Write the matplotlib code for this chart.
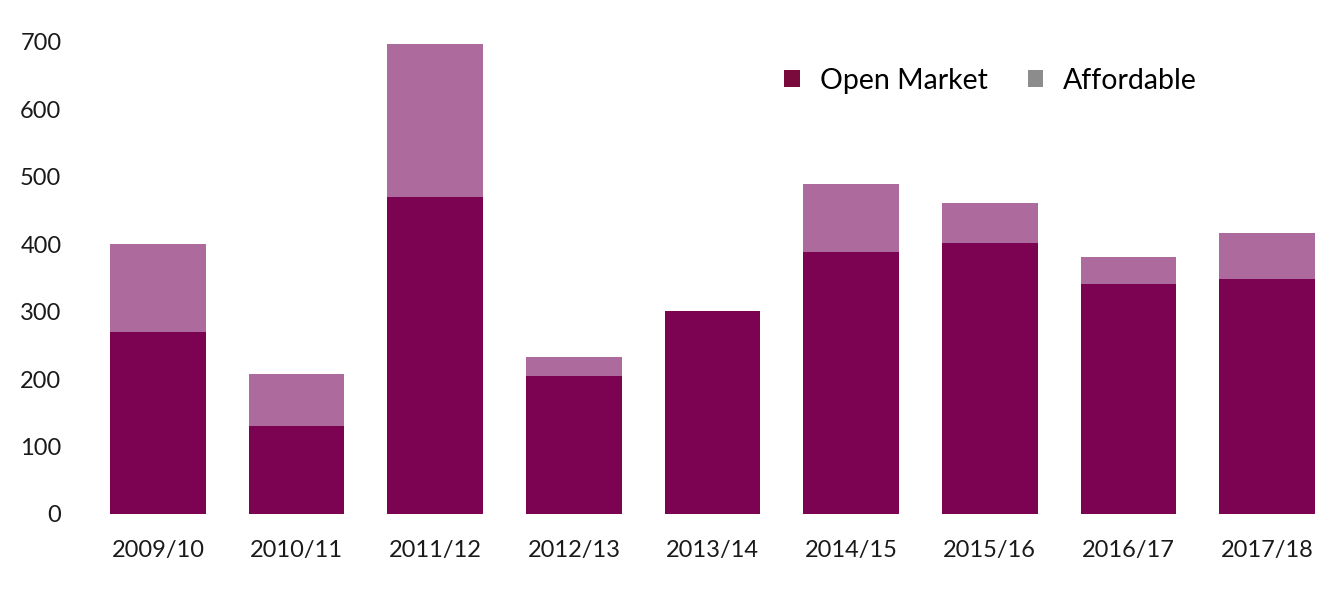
import matplotlib.pyplot as plt
from matplotlib.patches import Patch

years = ["2009/10", "2010/11", "2011/12", "2012/13", "2013/14",
         "2014/15", "2015/16", "2016/17", "2017/18"]
open_market = [270, 130, 470, 205, 301, 388, 402, 341, 348]
affordable = [130, 77, 227, 28, 0, 102, 59, 40, 68]

plt.rcParams['font.family'] = ['Lato', 'DejaVu Sans']

fig = plt.figure(figsize=(13.21, 6.03), dpi=100)
ax = fig.add_axes([85 / 1321, 1 - 514 / 603, 1236 / 1321, 472 / 603])

x = list(range(len(years)))
w = 0.69
ax.bar(x, open_market, width=w, color="#7b0352", clip_on=False, zorder=2)
ax.bar(x, affordable, width=w, bottom=open_market, color="#ad6a9c",
       clip_on=False, zorder=2)

ax.set_xlim(-0.527, 8.39)
ax.set_ylim(0, 700)
ax.set_yticks(range(0, 701, 100))
ax.set_xticks(x)
ax.set_xticklabels(years)
ax.tick_params(axis="both", length=0, labelsize=17, colors="#1a1a1a")
ax.tick_params(axis="x", pad=19)
ax.tick_params(axis="y", pad=17)
for s in ax.spines.values():
    s.set_visible(False)

handles = [Patch(facecolor="#7a0a3c", label="Open Market"),
           Patch(facecolor="#8c8c8c", label="Affordable")]
ax.legend(handles=handles, loc="upper left", bbox_to_anchor=(0.545, 1.0),
          ncol=2, frameon=False, fontsize=20.5, handlelength=0.55,
          handleheight=0.55, handletextpad=0.7, columnspacing=1.4)

fig.savefig("out.png", dpi=100)
